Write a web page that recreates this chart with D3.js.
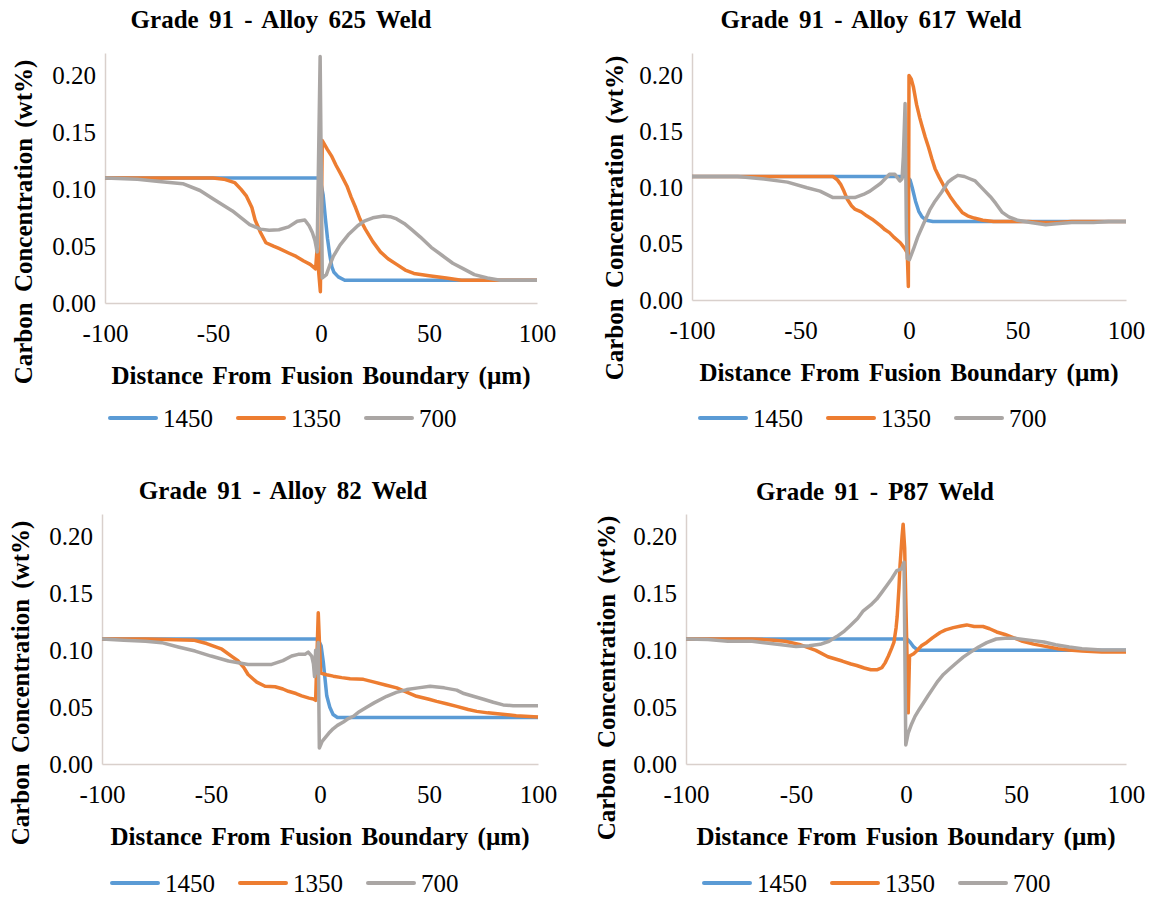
<!DOCTYPE html>
<html>
<head>
<meta charset="utf-8">
<script src="https://cdnjs.cloudflare.com/ajax/libs/d3/7.8.5/d3.min.js"></script>
<style>
body { margin: 0; background: #fff; }
.domain { stroke: #d9d0cc; stroke-width: 1.5px; }
.seri { fill: none; stroke-width: 3.5px; stroke-linejoin: round; }
</style>
</head>
<body>
<svg id="chart" width="1155" height="898"></svg>
<script>
// data: [jarak (um), kadar karbon (wt%)]
var suhu = ['1450', '1350', '700'];
var warna = ['#5b9bd5', '#ed7d31', '#aaa6a4'];
var judul = ['Grade  91 - Alloy 625 Weld', 'Grade  91 - Alloy 617 Weld', 'Grade  91 - Alloy 82 Weld', 'Grade  91 - P87 Weld'];
var xTicks = [-100, -50, 0, 50, 100];
var yTicks = [0, 0.05, 0.10, 0.15, 0.20];

var a625_1450 = [[-100,0.11],[-1.5,0.11],[0,0.105],[1,0.095],[2,0.075],[3,0.057],[4,0.043],[5,0.032],[6,0.027],[8,0.023],[11,0.02],[100,0.02]];
var a625_1350 = [[-100,0.11],[-50,0.11],[-45,0.109],[-40,0.106],[-37,0.1],[-34.5,0.094],[-32,0.084],[-30.5,0.073],[-28,0.062],[-25.5,0.053],[-22,0.05],[-19.5,0.048],[-15,0.044],[-11.5,0.041],[-8,0.037],[-5,0.034],[-2.5,0.03],[-1.8,0.048],[-1.2,0.03],[-0.3,0.01],[0.6,0.143],[3,0.135],[5,0.129],[7,0.121],[9,0.114],[12,0.103],[14,0.093],[16,0.084],[18,0.074],[20.5,0.065],[24,0.054],[27.5,0.045],[31,0.039],[35,0.034],[39,0.029],[43,0.026],[50,0.024],[58,0.022],[65,0.02],[100,0.02]];
var a625_700 = [[-100,0.11],[-85,0.109],[-75,0.107],[-64,0.105],[-56,0.099],[-49.5,0.091],[-41,0.081],[-33,0.069],[-28,0.065],[-24,0.064],[-19.5,0.0645],[-15,0.067],[-11,0.072],[-7.5,0.073],[-5.5,0.068],[-4,0.062],[-2.8,0.055],[-1.8,0.045],[-0.4,0.217],[0.6,0.022],[2.5,0.025],[4,0.033],[5.7,0.041],[8.8,0.051],[12.6,0.06],[17,0.068],[20,0.072],[24,0.075],[29,0.0765],[32,0.076],[35,0.074],[38.5,0.07],[42,0.0645],[46,0.058],[51,0.049],[56,0.042],[61,0.035],[66,0.03],[71,0.025],[77,0.022],[83,0.02],[100,0.02]];

var a617_1450 = [[-100,0.11],[-1,0.11],[0.5,0.107],[1.5,0.1],[3,0.088],[4.5,0.079],[6,0.074],[8,0.071],[11,0.07],[100,0.07]];
var a617_1350 = [[-100,0.11],[-35,0.11],[-33,0.107],[-31.5,0.103],[-30,0.097],[-28.5,0.09],[-26.5,0.084],[-25,0.081],[-22,0.0785],[-19.5,0.075],[-17,0.072],[-13,0.066],[-11,0.0625],[-9,0.06],[-7,0.056],[-4,0.051],[-2,0.046],[-0.8,0.042],[-0.3,0.012],[0,0.2],[1,0.197],[2,0.19],[3.5,0.174],[5,0.162],[6,0.155],[7.5,0.145],[9,0.136],[10.5,0.126],[12,0.117],[14,0.109],[16.5,0.1],[19,0.092],[22,0.084],[24.5,0.078],[27,0.075],[30,0.073],[34,0.071],[39,0.07],[55,0.07],[62,0.069],[68,0.069],[75,0.07],[100,0.07]];
var a617_700 = [[-100,0.11],[-79,0.11],[-68,0.108],[-56,0.105],[-47,0.1],[-41,0.097],[-35,0.0912],[-25,0.0912],[-21,0.094],[-18,0.097],[-13,0.104],[-9,0.112],[-6.5,0.112],[-4.2,0.106],[-3.2,0.108],[-2.6,0.128],[-1.8,0.175],[-1.2,0.06],[-0.8,0.037],[0.2,0.036],[2,0.045],[4,0.056],[6.5,0.067],[9.5,0.08],[12,0.088],[15,0.096],[18,0.105],[20,0.108],[22.5,0.111],[25.5,0.11],[28,0.108],[30.5,0.106],[33,0.101],[35,0.097],[37.5,0.092],[40,0.086],[43,0.078],[46,0.074],[50,0.071],[56,0.069],[63,0.067],[68,0.068],[75,0.069],[85,0.069],[92,0.07],[100,0.07]];

var a82_1450 = [[-100,0.11],[-1,0.11],[0.5,0.104],[1.5,0.09],[2.3,0.075],[3.1,0.06],[4.5,0.05],[6,0.0435],[8,0.041],[11,0.041],[100,0.041]];
var a82_1350 = [[-100,0.11],[-80,0.11],[-70,0.1095],[-58,0.109],[-52,0.106],[-45,0.101],[-40,0.094],[-37.5,0.0906],[-35,0.085],[-33,0.0788],[-29,0.072],[-25.2,0.0684],[-20.6,0.068],[-17,0.066],[-14.5,0.064],[-11,0.062],[-8.4,0.06],[-5,0.058],[-3,0.0572],[-2,0.056],[-1.6,0.083],[-0.8,0.133],[0.3,0.08],[3,0.0785],[6.1,0.0773],[10,0.076],[13.8,0.075],[19.9,0.0745],[24.5,0.0723],[30,0.0695],[35.2,0.067],[40,0.063],[44.3,0.0596],[50,0.057],[53.5,0.0551],[58,0.053],[62.7,0.0507],[68,0.048],[71.9,0.0463],[77,0.045],[82.6,0.044],[90,0.0425],[100,0.0413]];
var a82_700 = [[-100,0.11],[-90,0.109],[-80,0.108],[-72.6,0.1068],[-65,0.103],[-57.3,0.0994],[-50,0.095],[-42,0.0906],[-33,0.0876],[-22.2,0.0876],[-17,0.091],[-13,0.095],[-10,0.0965],[-6.9,0.0965],[-5.4,0.0985],[-3.8,0.095],[-3,0.088],[-2.5,0.077],[-2,0.1],[-1.5,0.08],[-0.8,0.107],[-0.3,0.014],[1,0.02],[2.3,0.023],[4,0.027],[6,0.031],[8,0.034],[10.7,0.037],[13,0.04],[15.3,0.042],[18,0.046],[21.4,0.05],[25,0.054],[30.6,0.0596],[35,0.063],[39.8,0.0655],[45,0.067],[50.5,0.0684],[57,0.067],[62.7,0.065],[66,0.062],[70.3,0.0596],[75,0.057],[79.5,0.0543],[84,0.052],[88.6,0.0513],[100,0.0513]];

var p87_1450 = [[-100,0.11],[0.5,0.11],[2,0.107],[3.5,0.103],[5.5,0.1],[100,0.1]];
var p87_1350 = [[-100,0.11],[-70,0.11],[-60,0.109],[-55,0.108],[-48.5,0.1053],[-41,0.1],[-35.5,0.0944],[-29,0.0906],[-25,0.088],[-22.4,0.0867],[-19,0.0845],[-16,0.083],[-13,0.083],[-11,0.0847],[-9.5,0.089],[-8,0.095],[-6.5,0.102],[-5.5,0.107],[-4.5,0.12],[-4,0.13],[-3.2,0.155],[-2.7,0.175],[-1.8,0.2],[-1.3,0.211],[-0.6,0.19],[0.3,0.11],[1,0.045],[1.6,0.095],[3.5,0.097],[4.8,0.0994],[7,0.104],[9.4,0.107],[12,0.111],[15.5,0.1157],[18,0.118],[21.5,0.12],[25,0.1215],[27.6,0.1224],[31,0.121],[35,0.121],[38,0.119],[41.2,0.1162],[45,0.114],[49,0.111],[53,0.108],[58,0.1055],[64,0.1033],[69,0.1015],[74,0.1003],[80,0.0995],[89,0.0985],[100,0.0985]];
var p87_700 = [[-100,0.11],[-90,0.1095],[-81,0.108],[-70,0.108],[-58.5,0.1053],[-50,0.1033],[-44,0.104],[-39,0.1053],[-35,0.108],[-31.5,0.1121],[-28,0.117],[-25.5,0.1215],[-22,0.128],[-19.4,0.1348],[-16,0.14],[-13.3,0.1451],[-11,0.151],[-8.8,0.1569],[-6.5,0.163],[-4.2,0.1702],[-2,0.1717],[-0.9,0.1776],[-0.1,0.0168],[1,0.0272],[2.5,0.035],[4.1,0.0419],[6,0.048],[7.9,0.0537],[10,0.06],[12.4,0.067],[14.5,0.073],[17,0.0788],[20,0.084],[23,0.0891],[26,0.094],[29,0.098],[33,0.103],[36.7,0.1068],[41,0.11],[45,0.1106],[49.6,0.1106],[56,0.109],[62.7,0.1074],[68,0.105],[74.2,0.103],[80,0.1015],[89,0.1003],[100,0.1003]];

// posisi tiap panel (px)
var panel = [
	{left: 105, right: 537, top: 53, bottom: 303, cx: 281, titleY: 28, yLabX: 23, yLabY: 222, legY: 418, seri: [a625_1450, a625_1350, a625_700]},
	{left: 692, right: 1126, top: 53, bottom: 300, cx: 871, titleY: 28, yLabX: 614, yLabY: 218, legY: 418, seri: [a617_1450, a617_1350, a617_700]},
	{left: 102, right: 538, top: 514, bottom: 764, cx: 283, titleY: 499, yLabX: 20, yLabY: 683, legY: 883, seri: [a82_1450, a82_1350, a82_700]},
	{left: 686, right: 1126, top: 514, bottom: 764, cx: 875, titleY: 500, yLabX: 606, yLabY: 678, legY: 883, seri: [p87_1450, p87_1350, p87_700]}
];

var fontSerif = "'Liberation Serif', 'Times New Roman', serif";
var svg = d3.select('#chart');

function drawPanel(p, i) {
	var x = d3.scaleLinear().domain([-100, 100]).range([p.left, p.right]);
	var y = d3.scaleLinear().domain([0, 0.22]).range([p.bottom, p.top]);

	var g = svg.append('g');

	g.append('g')
		.attr('transform', 'translate(0,' + p.bottom + ')')
		.call(d3.axisBottom(x).tickValues(xTicks).tickSize(0).tickPadding(21)
			.tickFormat(function(d) { return String(d); }));

	g.append('g')
		.attr('transform', 'translate(' + p.left + ',0)')
		.call(d3.axisLeft(y).tickValues(yTicks).tickSize(0).tickPadding(9)
			.tickFormat(d3.format('.2f')));

	var line = d3.line()
		.x(function(d) { return x(d[0]); })
		.y(function(d) { return y(d[1]); });

	g.selectAll('.seri')
		.data(p.seri)
		.enter().append('path')
		.attr('class', 'seri')
		.attr('stroke', function(d, j) { return warna[j]; })
		.attr('d', line);

	g.append('text')
		.attr('class', 'tebal')
		.attr('x', p.cx)
		.attr('y', p.titleY)
		.attr('text-anchor', 'middle')
		.style('word-spacing', '4px')
		.text(judul[i]);

	g.append('text')
		.attr('class', 'tebal')
		.attr('x', (p.left + p.right) / 2)
		.attr('y', p.bottom + 81)
		.attr('text-anchor', 'middle')
		.style('word-spacing', '3px')
		.text('Distance From Fusion Boundary (\u00b5m)');

	g.append('text')
		.attr('class', 'tebal')
		.attr('transform', 'translate(' + p.yLabX + ',' + p.yLabY + ') rotate(-90)')
		.attr('text-anchor', 'middle')
		.attr('dy', '0.35em')
		.style('word-spacing', '4px')
		.text('Carbon Concentration (wt%)');

	// legenda
	var x0 = p.cx - 173;
	suhu.forEach(function(s, j) {
		var lx = x0 + j * 128;
		g.append('line')
			.attr('x1', lx + 2).attr('x2', lx + 48)
			.attr('y1', p.legY).attr('y2', p.legY)
			.attr('stroke', warna[j])
			.attr('stroke-width', 4)
			.attr('stroke-linecap', 'round');
		g.append('text')
			.attr('x', lx + 55)
			.attr('y', p.legY + 9)
			.text(s);
	});
}

panel.forEach(drawPanel);

// font serif langsung di elemen teks
svg.selectAll('text')
	.style('font-family', fontSerif)
	.style('font-size', '25px')
	.style('fill', '#000');
svg.selectAll('text.tebal').style('font-weight', 'bold');
</script>
</body>
</html>
